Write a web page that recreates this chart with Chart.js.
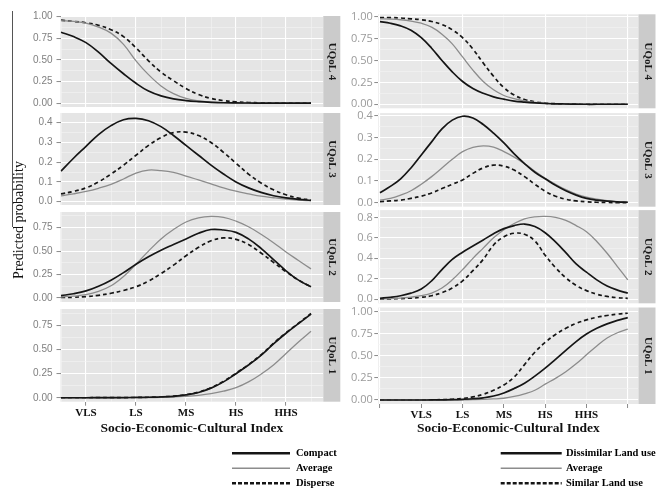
<!DOCTYPE html>
<html><head><meta charset="utf-8">
<script src="https://cdn.jsdelivr.net/npm/chart.js@4"></script>
<style>
html,body{margin:0;padding:0;background:#fff;}
#wrap{position:relative;width:671px;height:491px;overflow:hidden;background:#fff;}
#wrap canvas{position:absolute;}
.ytitle{position:absolute;font-family:"Liberation Serif";font-size:14px;color:#111;white-space:nowrap;transform:translate(-50%,-50%) rotate(-90deg);}
.leg{position:absolute;font-family:"Liberation Serif";font-weight:bold;font-size:10.5px;color:#000;white-space:nowrap;line-height:12px;}
</style></head><body><div id="wrap"></div>
<script>
// ---------- categories / ticks ----------
const xLeft  = [0.5,0.75,1,1.25,1.5,1.75,2,2.25,2.5,2.75,3,3.25,3.5,3.75,4,4.25,4.5,4.75,5,5.25,5.5];
const xRight = [0,0.25,0.5,0.75,1,1.25,1.5,1.75,2,2.25,2.5,2.75,3,3.25,3.5,3.75,4,4.25,4.5,4.75,5,5.25,5.5,5.75,6];
const leftTickValues  = [1,2,3,4,5];
const leftTickLabels  = ['VLS','LS','MS','HS','HHS'];
const rightTickValues = [0,1,2,3,4,5,6];
const rightTickLabels = ['','VLS','LS','MS','HS','HHS',''];
const stripLabels = ['UQoL 4','UQoL 3','UQoL 2','UQoL 1'];
const leftSeriesNames  = ['Compact','Average','Disperse'];
const rightSeriesNames = ['Dissimilar Land use','Average','Similar Land use'];
const xTitle = 'Socio-Economic-Cultural Index';
const yTitle = 'Predicted probability';
const leftYTicks  = [[0,0.25,0.5,0.75,1],[0,0.1,0.2,0.3,0.4],[0,0.25,0.5,0.75],[0,0.25,0.5,0.75]];
const leftYLabels = [['0.00','0.25','0.50','0.75','1.00'],['0.0','0.1','0.2','0.3','0.4'],['0.00','0.25','0.50','0.75'],['0.00','0.25','0.50','0.75']];
const rightYTicks  = [[0,0.25,0.5,0.75,1],[0,0.1,0.2,0.3,0.4],[0,0.2,0.4,0.6,0.8],[0,0.25,0.5,0.75,1]];
const rightYLabels = [['0.00','0.25','0.50','0.75','1.00'],['0.0','0.1','0.2','0.3','0.4'],['0.0','0.2','0.4','0.6','0.8'],['0.00','0.25','0.50','0.75','1.00']];

// ---------- left figure values ----------
const l4Compact  = [0.82,0.77,0.70,0.59,0.46,0.34,0.23,0.14,0.085,0.05,0.03,0.018,0.01,0.005,0.003,0.002,0.001,0,0,0,0];
const l4Average  = [0.955,0.945,0.925,0.88,0.81,0.68,0.49,0.33,0.20,0.11,0.055,0.027,0.013,0.006,0.003,0.001,0,0,0,0,0];
const l4Disperse = [0.96,0.945,0.93,0.90,0.85,0.77,0.64,0.49,0.36,0.26,0.17,0.10,0.055,0.03,0.015,0.008,0.004,0.002,0,0,0];
const l3Compact  = [0.155,0.22,0.28,0.34,0.385,0.415,0.422,0.41,0.38,0.335,0.285,0.235,0.185,0.14,0.10,0.07,0.047,0.03,0.019,0.012,0.007];
const l3Average  = [0.03,0.04,0.052,0.068,0.088,0.115,0.145,0.16,0.157,0.148,0.13,0.11,0.09,0.07,0.053,0.04,0.028,0.02,0.013,0.008,0.005];
const l3Disperse = [0.04,0.052,0.07,0.10,0.14,0.185,0.235,0.285,0.325,0.35,0.352,0.335,0.30,0.25,0.195,0.14,0.095,0.06,0.035,0.018,0.008];
const l2Compact  = [0.025,0.045,0.075,0.125,0.19,0.27,0.36,0.44,0.51,0.57,0.63,0.69,0.73,0.725,0.70,0.63,0.53,0.41,0.29,0.19,0.12];
const l2Average  = [0.01,0.02,0.035,0.07,0.13,0.23,0.36,0.50,0.63,0.73,0.81,0.855,0.87,0.86,0.82,0.76,0.68,0.59,0.49,0.40,0.31];
const l2Disperse = [0.005,0.008,0.015,0.028,0.05,0.08,0.12,0.18,0.26,0.35,0.45,0.54,0.61,0.64,0.625,0.57,0.48,0.38,0.28,0.19,0.12];
const l1Compact  = [0,0,0,0.001,0.001,0.002,0.003,0.005,0.008,0.015,0.03,0.055,0.10,0.165,0.25,0.34,0.44,0.56,0.67,0.77,0.87];
const l1Average  = [0,0,0,0,0,0.001,0.001,0.002,0.004,0.008,0.014,0.025,0.042,0.068,0.105,0.165,0.245,0.34,0.46,0.58,0.69];
const l1Disperse = [0,0,0,0.001,0.001,0.002,0.003,0.005,0.009,0.016,0.032,0.058,0.105,0.17,0.255,0.345,0.445,0.565,0.675,0.775,0.875];

// ---------- right figure values ----------
const r4Dissimilar = [0.943,0.925,0.895,0.845,0.76,0.64,0.50,0.37,0.26,0.18,0.125,0.085,0.058,0.036,0.024,0.015,0.009,0.005,0.003,0.001,0,0,0,0,0];
const r4Average    = [0.975,0.972,0.965,0.95,0.925,0.88,0.80,0.69,0.54,0.39,0.26,0.165,0.10,0.065,0.038,0.022,0.012,0.006,0.003,0.001,0,0,0,0,0];
const r4Similar    = [0.99,0.99,0.985,0.975,0.965,0.945,0.91,0.85,0.76,0.63,0.47,0.32,0.19,0.105,0.055,0.028,0.013,0.006,0.003,0.001,0,0,0,0,0];
const r3Dissimilar = [0.046,0.075,0.11,0.16,0.22,0.28,0.34,0.38,0.398,0.39,0.36,0.32,0.275,0.225,0.18,0.14,0.11,0.08,0.055,0.035,0.02,0.012,0.007,0.004,0.002];
const r3Average    = [0.012,0.02,0.035,0.055,0.085,0.12,0.16,0.20,0.235,0.255,0.262,0.256,0.235,0.21,0.18,0.145,0.112,0.085,0.06,0.04,0.026,0.016,0.009,0.005,0.003];
const r3Similar    = [0.005,0.008,0.012,0.02,0.03,0.045,0.065,0.085,0.105,0.135,0.16,0.173,0.168,0.15,0.12,0.085,0.053,0.03,0.016,0.008,0.004,0.002,0.001,0,0];
const r2Dissimilar = [0.01,0.02,0.035,0.06,0.10,0.18,0.29,0.39,0.46,0.52,0.58,0.64,0.69,0.72,0.735,0.71,0.65,0.56,0.455,0.345,0.265,0.19,0.13,0.09,0.06];
const r2Average    = [0.003,0.006,0.012,0.022,0.035,0.06,0.11,0.19,0.29,0.40,0.50,0.60,0.68,0.74,0.785,0.805,0.81,0.80,0.77,0.72,0.66,0.565,0.45,0.32,0.19];
const r2Similar    = [0.002,0.004,0.007,0.012,0.02,0.035,0.065,0.11,0.18,0.28,0.39,0.53,0.61,0.645,0.635,0.57,0.43,0.31,0.21,0.135,0.085,0.05,0.028,0.016,0.01];
const r1Dissimilar = [0,0,0,0,0,0.001,0.002,0.004,0.008,0.014,0.025,0.045,0.08,0.13,0.19,0.27,0.36,0.46,0.56,0.66,0.745,0.81,0.86,0.90,0.93];
const r1Average    = [0,0,0,0,0,0,0,0.001,0.002,0.004,0.007,0.012,0.02,0.04,0.07,0.11,0.18,0.245,0.32,0.41,0.51,0.61,0.70,0.76,0.80];
const r1Similar    = [0,0,0,0,0.001,0.002,0.004,0.008,0.018,0.035,0.065,0.11,0.17,0.26,0.40,0.54,0.65,0.74,0.81,0.865,0.905,0.935,0.955,0.97,0.98];

const leftRows  = [[l4Compact,l4Average,l4Disperse],[l3Compact,l3Average,l3Disperse],[l2Compact,l2Average,l2Disperse],[l1Compact,l1Average,l1Disperse]];
const rightRows = [[r4Dissimilar,r4Average,r4Similar],[r3Dissimilar,r3Average,r3Similar],[r2Dissimilar,r2Average,r2Similar],[r1Dissimilar,r1Average,r1Similar]];

// ---------- styling / geometry ----------
const lineStyles = [
  {color:'#151515', width:1.7, dash:[]},
  {color:'#8c8c8c', width:1.3, dash:[]},
  {color:'#151515', width:1.7, dash:[4,3]}
];
const LG = { // left figure
  canvasLeft:0, canvasWidth:345, areaLeft:60.5, areaRight:323.3, stripW:17,
  tops:[14.6,111.7,210.5,307.5], bottoms:[108.6,206.7,303.5,401.7],
  yMin:[-0.044,-0.0167,-0.043,-0.041], yMax:[1.008,0.449,0.917,0.922],
  xMin:0.49, xMax:5.746, axisH:35.4,
  xGridMajor:[1,2,3,4,5], xGridMinor:[0.5,1.5,2.5,3.5,4.5,5.5],
  bg:'#e5e5e5', tickFont:{family:'"Liberation Sans"', size:10}, tickColor:'#7f7f7f', tickPad:4
};
const RG = { // right figure
  canvasLeft:340, canvasWidth:331, areaLeft:378.3, areaRight:638.5, stripW:17,
  tops:[14.3,113,210,307.5], bottoms:[108.3,206.7,303.3,404],
  yMin:[-0.046,-0.0184,-0.039,-0.045], yMax:[1.027,0.4124,0.871,1.045],
  xMin:-0.041, xMax:6.26, axisH:33.1,
  xGridMajor:[0,2,4,6], xGridMinor:[1,3,5],
  bg:'#e8e8e8', tickFont:{family:'"Open Sans"', size:11}, tickColor:'#9a9a9a', tickPad:1.5
};

const near = (a,b) => Math.abs(a-b) < 1e-9;
const inList = (v, list) => list.some(t => near(t, v));

const panelPlugin = {
  id:'panel',
  beforeDraw(chart, args, o){
    const a = chart.chartArea, c = chart.ctx;
    c.save(); c.fillStyle = o.bg; c.fillRect(a.left, a.top, a.right-a.left, a.bottom-a.top); c.restore();
  },
  afterDraw(chart, args, o){
    const a = chart.chartArea, c = chart.ctx;
    c.save();
    c.fillStyle = '#cbcbcb';
    c.fillRect(a.right, a.top, o.stripW, a.bottom-a.top);
    c.translate(a.right + o.stripW/2 + 0.5, (a.top+a.bottom)/2);
    c.rotate(Math.PI/2);
    c.font = 'bold 11px "Liberation Serif"';
    c.fillStyle = '#1a1a1a'; c.textAlign = 'center'; c.textBaseline = 'middle';
    c.fillText(o.text, 0, 0);
    c.restore();
  }
};

function makePanel(G, xs, rows, yTicks, yLabels, r, xTickValues, xTickLabels) {
  const isBottom = r === 3;
  const rowTop = G.tops[r], rowBottom = G.bottoms[r];
  const canvasTop = Math.floor(rowTop - 8);
  const padT = rowTop - canvasTop;
  const axisH = isBottom ? G.axisH : 0;
  const h = Math.ceil((rowBottom - canvasTop) + axisH + (isBottom ? 0 : 8));
  const padB = h - (rowBottom - canvasTop) - axisH;
  const cv = document.createElement('canvas');
  cv.width = G.canvasWidth; cv.height = h;
  cv.style.left = G.canvasLeft + 'px'; cv.style.top = canvasTop + 'px';
  cv.style.width = G.canvasWidth + 'px'; cv.style.height = h + 'px';
  document.getElementById('wrap').appendChild(cv);

  const yMaj = yTicks[r];
  const yMinor = [];
  const step = yMaj[1]-yMaj[0];
  for (let i = -1; i < yMaj.length; i++) {
    const m = (i < 0 ? yMaj[0]-step : yMaj[i]) + step/2;
    if (m > G.yMin[r] && m < G.yMax[r]) yMinor.push(m);
  }
  const yAll = yMaj.concat(yMinor).sort((a,b)=>a-b);
  const xAll = G.xGridMajor.concat(G.xGridMinor).concat(xTickValues).filter((v,i,arr)=>arr.findIndex(w=>near(w,v))===i).sort((a,b)=>a-b);

  const datasets = rows[r].map((vals, k) => ({
    data: xs.map((x, i) => ({x, y: vals[i]})),
    borderColor: lineStyles[k].color,
    borderWidth: lineStyles[k].width,
    borderDash: lineStyles[k].dash,
    pointRadius: 0, fill: false,
    tension: 0.4
  }));

  return new Chart(cv, {
    type: 'line',
    data: {datasets},
    plugins: [panelPlugin],
    options: {
      responsive: false, animation: false, devicePixelRatio: 1,
      events: [],
      layout: {padding: {top: padT, bottom: padB, left: 0, right: G.canvasWidth - (G.areaRight - G.canvasLeft)}},
      plugins: {
        legend: {display: false}, tooltip: {enabled: false},
        panel: {bg: G.bg, stripW: G.stripW, text: stripLabels[r]}
      },
      scales: {
        x: {
          type: 'linear', min: G.xMin, max: G.xMax,
          afterBuildTicks: s => { s.ticks = xAll.map(v => ({value: v})); },
          afterFit: s => { s.height = axisH; },
          border: {display: false},
          grid: {
            color: c => inList(c.tick.value, G.xGridMajor) ? '#ffffff' : '#f3f3f3',
            lineWidth: c => inList(c.tick.value, G.xGridMajor) ? 1.1 : 0.6,
            drawTicks: isBottom, tickLength: 4, tickWidth: 1,
            tickColor: c => inList(c.tick.value, xTickValues) ? '#8a8a8a' : 'rgba(0,0,0,0)'
          },
          ticks: {
            display: isBottom, autoSkip: false, maxRotation: 0, minRotation: 0, padding: 1,
            font: {family: '"Liberation Serif"', size: 11, weight: 'bold'}, color: '#111',
            callback: v => { const i = xTickValues.findIndex(t => near(t, v)); return i >= 0 ? xTickLabels[i] : ''; }
          },
          title: {display: isBottom, text: xTitle, color: '#111', padding: 0,
                  font: {family: '"Liberation Serif"', size: 13.5, weight: 'bold'}}
        },
        y: {
          type: 'linear', min: G.yMin[r], max: G.yMax[r],
          afterBuildTicks: s => { s.ticks = yAll.map(v => ({value: v})); },
          afterFit: s => { s.width = G.areaLeft - G.canvasLeft; },
          border: {display: false},
          grid: {
            color: c => inList(c.tick.value, yMaj) ? '#ffffff' : '#f3f3f3',
            lineWidth: c => inList(c.tick.value, yMaj) ? 1.1 : 0.6,
            drawTicks: true, tickLength: 4, tickWidth: 1,
            tickColor: c => inList(c.tick.value, yMaj) ? '#8a8a8a' : 'rgba(0,0,0,0)'
          },
          ticks: {
            autoSkip: false, padding: G.tickPad, font: G.tickFont, color: G.tickColor,
            callback: v => { const i = yMaj.findIndex(t => near(t, v)); return i >= 0 ? yLabels[r][i] : ''; }
          }
        }
      }
    }
  });
}

for (let r = 0; r < 4; r++) {
  makePanel(LG, xLeft, leftRows, leftYTicks, leftYLabels, r, leftTickValues, leftTickLabels);
  makePanel(RG, xRight, rightRows, rightYTicks, rightYLabels, r, rightTickValues, rightTickLabels);
}

// ---------- y title, legends ----------
const wrap = document.getElementById('wrap');
const yt = document.createElement('div');
yt.className = 'ytitle'; yt.textContent = yTitle;
yt.style.left = '18.5px'; yt.style.top = '220px';
wrap.appendChild(yt);
const edge = document.createElement('div');
edge.style.cssText = 'position:absolute;left:12px;top:11px;width:1px;height:216px;background:#555;';
wrap.appendChild(edge);

function legend(names, lineX0, lineX1, textX, ys) {
  const svgNS = 'http://www.w3.org/2000/svg';
  const svg = document.createElementNS(svgNS, 'svg');
  svg.setAttribute('width', '671'); svg.setAttribute('height', '491');
  svg.style.cssText = 'position:absolute;left:0;top:0;';
  names.forEach((n, k) => {
    const st = lineStyles[k];
    const ln = document.createElementNS(svgNS, 'line');
    ln.setAttribute('x1', lineX0); ln.setAttribute('x2', lineX1);
    ln.setAttribute('y1', ys[k]); ln.setAttribute('y2', ys[k]);
    ln.setAttribute('stroke', st.color);
    ln.setAttribute('stroke-width', k === 1 ? 1.6 : 2.6);
    if (st.dash.length) ln.setAttribute('stroke-dasharray', '4 2');
    svg.appendChild(ln);
    const t = document.createElement('div');
    t.className = 'leg'; t.textContent = n;
    t.style.left = textX + 'px'; t.style.top = (ys[k] - 6.5) + 'px';
    wrap.appendChild(t);
  });
  wrap.appendChild(svg);
}
legend(leftSeriesNames, 232, 290, 296, [453.3, 468.3, 483.3]);
legend(rightSeriesNames, 500.7, 561.7, 566, [453.3, 468.3, 483.3]);
</script></body></html>
